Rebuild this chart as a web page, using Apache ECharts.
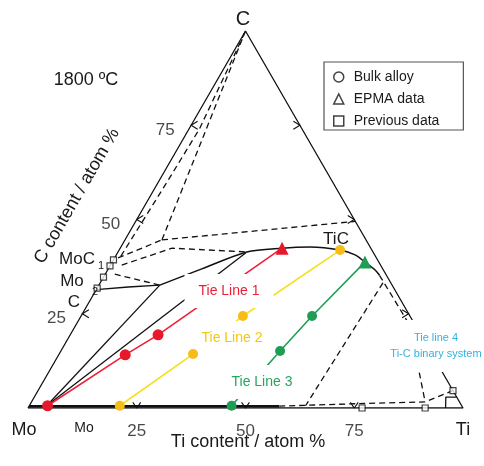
<!DOCTYPE html>
<html><head><meta charset="utf-8">
<script src="https://cdn.jsdelivr.net/npm/echarts@6/dist/echarts.min.js"></script>
<style>html,body{margin:0;padding:0;background:#fff}#c{width:484px;height:466px}</style>
</head><body><div id="c"></div>
<script>
// All compositions are [Ti at.%, C at.%]  (Mo = 100 - Ti - C)
const corners = [[0,0],[100,0],[0,100],[0,0]];
const ticks = [25,50,75];
const tieRed = [[4.2,0.6],[15.3,14.1],[20.2,19.4],[37.2,42.4]];
const tieYellow = [[20.8,0.6],[30.8,14.3],[37.2,24.4],[50.8,41.9]];
const tieGreen = [[46.5,0.6],[50.4,15.1],[53.1,24.4],[58.1,38.7]];
const bulkRed = [[4.2,0.6],[15.3,14.1],[20.2,19.4]];
const epmaRed = [[37.2,42.4]];
const bulkYellow = [[20.8,0.6],[30.8,14.3],[37.2,24.4],[50.8,41.9]];
const bulkGreen = [[46.5,0.6],[50.4,15.1],[53.1,24.4]];
const epmaGreen = [[58.1,38.7]];
const previous = [[0,39.3],[0,37.7],[0,34.7],[0,31.8],[76.8,0],[91.3,0],[95.4,4.6]];
const ticBoundary = [[14.0,32.6],[21.5,36.9],[29.6,41.4],[37.2,42.4],[43.5,42.7],[50.8,41.9],[54.9,40.6],[58.1,38.7],[61.5,36.6],[63.2,35.2]];
const ticBoundaryDashed = [[63.2,35.2],[75.6,23.1]];
const tieBlackA = [[4.0,0.6],[14.0,32.6]];
const tieBlackB = [[4.0,0.6],[29.5,41.2]];
const mo2cSolid = [[0,31.4],[7,32.1],[14.0,32.6]];
const bccSolid = [[0,0.45],[57.5,0.45]];
const bccDashed = [[57.5,0.5],[76.8,1.2],[90.5,1.6],[95.4,4.6]];
const tiCorner = [[96.0,0],[94.6,2.9],[97.1,2.9]];
const dashA = [[1.2,40.3],[2.0,60],[2.4,74],[0.6,94],[0,100]];
const dashC = [[8.5,44.6],[0,100]];
const dashMoC = [[0.8,39.8],[8.5,44.6]];
const dashUpper = [[8.5,44.6],[50.5,49.5]];
const dashLower = [[2.6,37.9],[11.9,42.4],[29.6,41.4]];
const dashMo2C = [[2.2,35.5],[14.0,32.6]];
const dashTi63 = [[65.0,33.2],[63.5,0.6]];
const dashNearVert = [[83.5,12.0],[90.5,1.6]];

const S3 = Math.sqrt(3)/2;
const tc = p => [p[0] + p[1]/2, p[1]*S3];
const FONT = "'Liberation Sans', Arial, Helvetica, sans-serif";
const DASH = [6,4];
function ln(data, color, width, type, extra) {
  return Object.assign({type:'line', data:data.map(tc), symbol:'none', showSymbol:false, silent:true,
    lineStyle:{color:color, width:width, type:type||'solid'}, z:2, animation:false}, extra||{});
}
function pts(data, symbol, size, color, name) {
  return {type:'scatter', name:name||undefined, data:data.map(tc), symbol:symbol, symbolSize:size,
    itemStyle:{color:color, opacity:1}, z:10, silent:true, animation:false};
}
// chevron tick marks
const chevrons = [];
ticks.forEach(v => {
  const b = tc([v,0]); chevrons.push({coords:[[b[0]-0.9,b[1]+1.3],b,[b[0]+0.9,b[1]+1.3]]});
  const l = tc([0,v]); chevrons.push({coords:[[l[0]+1.5,l[1]+0.9],l,[l[0]+1.5,l[1]-0.9]]});
  const r = tc([100-v,v]); chevrons.push({coords:[[r[0]-1.5,r[1]+0.9],r,[r[0]-1.5,r[1]-0.9]]});
});

const series = [
  ln(corners,'#111',1.3),
  ln(bccSolid,'#111',2.4),
  ln(tieBlackA,'#111',1.3),
  ln(tieBlackB,'#111',1.3),
  ln(mo2cSolid,'#111',1.3),
  ln(tiCorner,'#111',1.3),
  ln(ticBoundary,'#111',1.5,'solid',{smooth:0.3}),
  ln(ticBoundaryDashed,'#111',1.3,DASH),
  ln(bccDashed,'#111',1.3,DASH),
  ln(dashA,'#111',1.3,DASH),
  ln(dashC,'#111',1.3,DASH),
  ln(dashMoC,'#111',1.3,DASH),
  ln(dashUpper,'#111',1.3,DASH),
  ln(dashLower,'#111',1.3,DASH),
  ln(dashMo2C,'#111',1.3,DASH),
  ln(dashTi63,'#111',1.3,DASH),
  ln(dashNearVert,'#111',1.3,DASH),
  {type:'lines', coordinateSystem:'cartesian2d', polyline:true, data:chevrons, silent:true,
   lineStyle:{color:'#111', width:1.1, opacity:1}, z:3, animation:false},
  ln(tieRed,'#ee2038',1.6),
  ln(tieYellow,'#f4e01c',1.6),
  ln(tieGreen,'#1f9e5a',1.6),
  pts(bulkRed,'circle',11,'#e8182c'),
  pts(epmaRed,'triangle',13,'#e8182c'),
  pts(bulkYellow,'circle',10,'#f7bd16'),
  pts(bulkGreen,'circle',10,'#1f9d55'),
  pts(epmaGreen,'triangle',13,'#1f9d55'),
  {type:'scatter', name:'Bulk alloy', data:[], symbol:'circle'},
  {type:'scatter', name:'EPMA data', data:[], symbol:'triangle'},
  {type:'scatter', name:'Previous data', data:previous.map(tc), symbol:'rect', symbolSize:6,
   itemStyle:{color:'#fff', borderColor:'#111', borderWidth:1.2}, z:12, silent:true, animation:false},
  {type:'scatter', data:ticks.map(v => ({name:String(v), value:tc([v,0])})), symbolSize:1,
   itemStyle:{color:'rgba(0,0,0,0)'}, z:20, silent:true,
   label:{show:true, formatter:'{b}', position:'inside', offset:[0,23], fontSize:17, color:'#1a1a1a', fontFamily:FONT}},
  {type:'scatter', data:ticks.map(v => ({name:String(v), value:tc([0,v])})), symbolSize:1,
   itemStyle:{color:'rgba(0,0,0,0)'}, z:20, silent:true,
   label:{show:true, formatter:'{b}', position:'inside', offset:[-26,5], fontSize:17, color:'#1a1a1a', fontFamily:FONT}}
];

function txt(text, x, y, size, color, extra) {
  return Object.assign({type:'text', x:x, y:y, z:20, silent:true,
    style:{text:text, fontSize:size, fontFamily:FONT, fill:color||'#1a1a1a', align:'center', verticalAlign:'middle'}}, extra||{});
}
function boxTxt(text, x, y, size, color, pad, lh) {
  return {type:'text', x:x, y:y, z:5, silent:true,
    style:{text:text, fontSize:size, fontFamily:FONT, fill:color, align:'center', verticalAlign:'middle',
      backgroundColor:'#fff', padding:pad, lineHeight:lh||size+2}};
}

const graphics = [
  txt('C', 243, 19, 20),
  txt('Mo', 24, 430, 18),
  txt('Ti', 463, 430, 18),
  txt('Mo', 84, 428, 14),
  txt('1800 ºC', 86, 80, 18),
  txt('Ti content / atom %', 248, 442, 18),
  txt('C content / atom %', 77, 196, 18, '#1a1a1a', {rotation:Math.PI/3}),
  txt('TiC', 336, 239, 17),
  txt('MoC', 77, 259, 17),
  txt('1', 101, 266, 11),
  txt('Mo', 72, 281, 17),
  txt('2', 95, 292, 11),
  txt('C', 74, 302, 17),
  boxTxt('Tie Line 1', 229, 291, 14, '#ee2038', [9,14]),
  boxTxt('Tie Line 2', 232, 338, 14, '#f2c811', [9,14]),
  boxTxt('Tie Line 3', 262, 382, 14, '#25a65f', [9,14]),
  boxTxt('Tie line 4\nTi-C binary system', 436, 346, 11, '#2fb2e6', [10,8], 16)
];

const chart = echarts.init(document.getElementById('c'), null, {renderer:'canvas'});
chart.setOption({
  animation:false,
  backgroundColor:'#fff',
  grid:{left:28, right:21, top:31, bottom:58},
  xAxis:{type:'value', min:0, max:100, show:false},
  yAxis:{type:'value', min:0, max:100*S3, show:false},
  legend:{
    orient:'vertical', left:324, top:62, selectedMode:false,
    itemWidth:10, itemHeight:10, itemGap:8, symbolKeepAspect:true,
    padding:[8,24,2,9], borderColor:'#555', borderWidth:1.2, backgroundColor:'#fff',
    textStyle:{fontSize:14, color:'#1a1a1a', fontFamily:FONT, padding:[0,0,0,5]},
    data:[
      {name:'Bulk alloy', icon:'circle', itemStyle:{color:'#fff', borderColor:'#111', borderWidth:1.5}},
      {name:'EPMA data', icon:'triangle', itemStyle:{color:'#fff', borderColor:'#111', borderWidth:1.5}},
      {name:'Previous data', icon:'rect', itemStyle:{color:'#fff', borderColor:'#111', borderWidth:1.5}}
    ]
  },
  graphic:{elements:graphics},
  series:series
});
</script></body></html>
